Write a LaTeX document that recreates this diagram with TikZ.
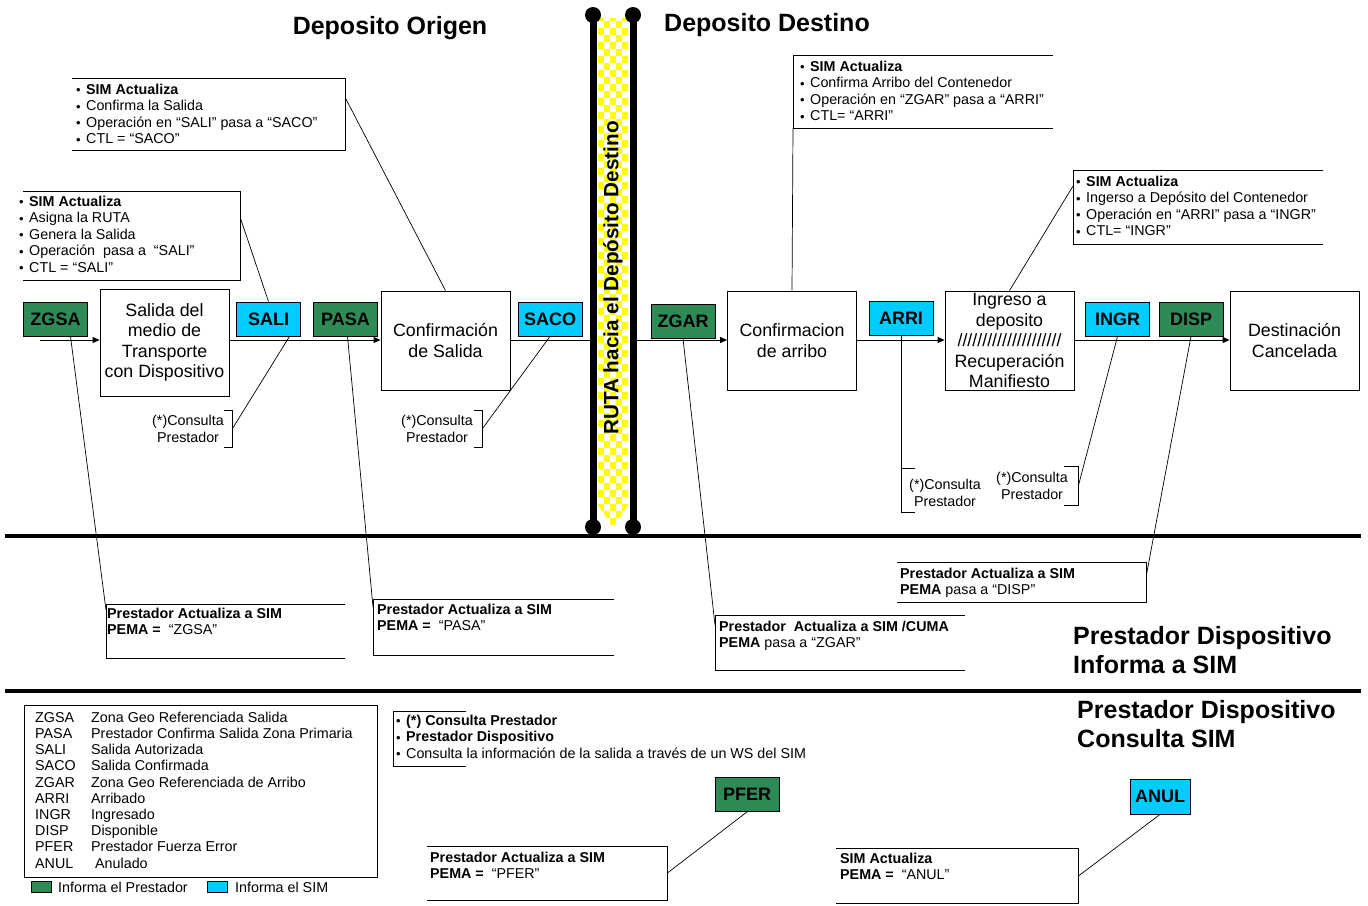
\documentclass[tikz,border=0pt]{standalone}
\usepackage{fontspec}
\setmainfont{Liberation Sans}
\usetikzlibrary{arrows.meta}
\definecolor{pgreen}{RGB}{46,139,87}
\definecolor{scyan}{RGB}{0,204,255}
\definecolor{ryellow}{RGB}{255,255,0}
\newcommand{\sz}{\fontsize{14.3}{16.5}\selectfont}
\newcommand{\bu}{\makebox[10pt][l]{\raisebox{-0.3pt}{\fontsize{13}{13}\selectfont\textbullet}}}
\newcommand{\fs}{\rule{0pt}{11pt}}
\tikzset{
  tagbox/.style={draw=black, line width=0.8pt, minimum width=64pt, minimum height=34pt, inner sep=0pt, font=\fontsize{18}{18}\selectfont\bfseries},
  gtag/.style={tagbox, fill=pgreen},
  ctag/.style={tagbox, fill=scyan},
  stepbox/.style={draw, line width=0.8pt, minimum width=129pt, minimum height=99pt, align=center, inner sep=0pt, font=\fontsize{17.8}{20.5}\selectfont},
  callframe/.style={draw=none, inner sep=0pt, anchor=north west},
  calltext/.style={anchor=north west, inner sep=0pt, align=left, font=\sz},
  thinl/.style={line width=0.7pt},
  frameline/.style={line width=1pt},
  flow/.style={line width=1pt, -{Triangle[length=7pt,width=6pt]}},
  brtext/.style={inner sep=0pt, align=center, font=\sz},
  title/.style={inner sep=0pt, font=\fontsize{25}{29}\selectfont\bfseries, align=left},
}
\begin{document}
\begin{tikzpicture}[x=1pt,y=-1pt]
\useasboundingbox[fill=white] (0,0) rectangle (1368,905);

% ---------- route strip ----------
\begin{scope}
  \clip (598,18) -- (628,18) -- (628,505) -- (613,528) -- (598,505) -- cycle;
  \foreach \i in {0,...,4}{
    \foreach \j in {0,...,73}{
      \pgfmathtruncatemacro{\p}{mod(\i+\j,2)}
      \ifnum\p=0 \fill[ryellow] (598+6*\i,14+7*\j) rectangle ++(6,7); \fi
    }
  }
\end{scope}
\draw[line width=7pt] (593,15) -- (593,527);
\draw[line width=7pt] (633,15) -- (633,527);
\foreach \xx in {593,633}{
  \fill (\xx,15) circle[radius=8pt];
  \fill (\xx,527) circle[radius=8pt];
}
\node[rotate=90, inner sep=0pt, font=\fontsize{20.7}{24}\selectfont\bfseries] (ruta) at (613,278) {RUTA hacia el Depósito Destino};

% ---------- separators ----------
\draw[line width=4pt] (5,536) -- (1361,536);
\draw[line width=4pt] (5,691) -- (1361,691);

% ---------- titles ----------
\node[title] (tOri) at (390,28) {Deposito Origen};
\node[title] (tDes) at (767,25) {Deposito Destino};
\node[title, anchor=north west] (tInf) at (1073,626) {Prestador Dispositivo\\Informa a SIM};
\node[title, anchor=north west] (tCon) at (1077,700) {Prestador Dispositivo\\Consulta SIM};

% ---------- main boxes ----------
\node[stepbox, minimum height=107pt] (salida) at (164.5,342.5) {Salida del\\medio de\\Transporte\\con Dispositivo};
\node[stepbox] (confsal) at (445.5,340.5) {Confirmación\\de Salida};
\node[stepbox] (confarr) at (792,340.5) {Confirmacion\\de arribo};
\node[stepbox] (ingreso) at (1009.5,340.5) {Ingreso a\\deposito\\/////////////////////\\Recuperación\\Manifiesto};
\node[stepbox] (dest) at (1294.5,340.5) {Destinación\\Cancelada};

% ---------- tags ----------
\node[gtag] (zgsa) at (55.5,319) {ZGSA};
\node[ctag] (sali) at (268.5,319) {SALI};
\node[gtag] (pasa) at (345.5,319) {PASA};
\node[ctag] (saco) at (550,319) {SACO};
\node[gtag] (zgar) at (683,321) {ZGAR};
\node[ctag] (arri) at (901,318.5) {ARRI};
\node[ctag] (ingr) at (1117.5,319) {INGR};
\node[gtag] (disp) at (1191,319) {DISP};
\node[gtag] (pfer) at (747,794.5) {PFER};
\node[ctag, minimum width=60pt, minimum height=35pt] (anul) at (1160,796.5) {ANUL};

% ---------- flow ----------
\coordinate (fstart) at (40,340);
\coordinate (rleft) at (590,340);
\coordinate (rright) at (636,340);
\draw[flow] (fstart) -- (fstart -| salida.west);
\draw[flow] (fstart -| salida.east) -- (fstart -| confsal.west);
\draw[line width=1pt] (fstart -| confsal.east) -- (rleft);
\draw[flow] (rright) -- (fstart -| confarr.west);
\draw[flow] (fstart -| confarr.east) -- (fstart -| ingreso.west);
\draw[flow] (fstart -| ingreso.east) -- (fstart -| dest.west);

% ---------- upper callouts ----------
\node[callframe, minimum width=273pt, minimum height=72pt] (fA) at (72,78) {};
\draw[frameline] (fA.north west) -| (fA.south east) -- (fA.south west);
\node[calltext] (tA) at (76,83) {\fs\bu\textbf{SIM Actualiza}\\\bu Confirma la Salida\\\bu Operación en “SALI” pasa a “SACO”\\\bu CTL = “SACO”};
\draw[thinl] ([yshift=-20pt]fA.north east) -- (confsal.north);

\node[callframe, minimum width=217pt, minimum height=89pt] (fB) at (23,191) {};
\draw[frameline] (fB.north west) -| (fB.south east) -- (fB.south west);
\node[calltext] (tB) at (19,195) {\fs\bu\textbf{SIM Actualiza}\\\bu Asigna la RUTA\\\bu Genera la Salida\\\bu Operación\ \ pasa a\ \ “SALI”\\\bu CTL = “SALI”};
\draw[thinl] ([yshift=-27pt]fB.north east) -- (sali.north);

\node[callframe, minimum width=260pt, minimum height=73pt] (fC) at (793,55) {};
\draw[frameline] (fC.north east) -| (fC.south west) -- (fC.south east);
\node[calltext] (tC) at (800,60) {\fs\bu\textbf{SIM Actualiza}\\\bu Confirma Arribo del Contenedor\\\bu Operación en “ZGAR” pasa a “ARRI”\\\bu CTL= “ARRI”};
\draw[thinl] (fC.south west) -- (confarr.north);

\node[callframe, minimum width=250pt, minimum height=74pt] (fD) at (1073,170) {};
\draw[frameline] (fD.north east) -| (fD.south west) -- (fD.south east);
\node[calltext] (tD) at (1076,175) {\fs\bu\textbf{SIM Actualiza}\\\bu Ingerso a Depósito del Contenedor\\\bu Operación en “ARRI” pasa a “INGR”\\\bu CTL= “INGR”};
\draw[thinl] ([yshift=-16pt]fD.north west) -- (ingreso.north);

% ---------- consult brackets ----------
\node[callframe, minimum width=8pt, minimum height=37pt] (bkS) at (224,410) {};
\draw[thinl] (bkS.north west) -| (bkS.south east) -- (bkS.south west);
\node[brtext] (cS) at (188,429) {(*)Consulta\\Prestador};
\draw[thinl] (bkS.east) -- ([xshift=21pt]sali.south);

\node[callframe, minimum width=8pt, minimum height=37pt] (bkC) at (474,410) {};
\draw[thinl] (bkC.north west) -| (bkC.south east) -- (bkC.south west);
\node[brtext] (cC) at (437,429) {(*)Consulta\\Prestador};
\draw[thinl] (bkC.east) -- (saco.south);

\node[callframe, minimum width=14pt, minimum height=44pt] (bkA) at (901,468) {};
\draw[thinl] (bkA.north east) -| (bkA.south west) -- (bkA.south east);
\node[brtext] (cA) at (945,493) {(*)Consulta\\Prestador};
\draw[thinl] (arri.south) -- (bkA.north west);

\node[callframe, minimum width=14pt, minimum height=39pt] (bkI) at (1064,466) {};
\draw[thinl] (bkI.north west) -| (bkI.south east) -- (bkI.south west);
\node[brtext] (cI) at (1032,486) {(*)Consulta\\Prestador};
\draw[thinl] (bkI.east) -- (ingr.south);

% ---------- lower callouts ----------
\node[callframe, minimum width=239pt, minimum height=54pt] (fE) at (106,604) {};
\draw[frameline] (fE.north east) -| (fE.south west) -- (fE.south east);
\node[calltext] (tE) at (107,607) {\fs\textbf{Prestador Actualiza a SIM}\\\textbf{PEMA =}\ \ “ZGSA”};
\draw[thinl] ([xshift=15pt]zgsa.south) -- ([yshift=-6pt]fE.north west);

\node[callframe, minimum width=241pt, minimum height=56pt] (fF) at (373,599) {};
\draw[frameline] (fF.north east) -| (fF.south west) -- (fF.south east);
\node[calltext] (tF) at (377,603) {\fs\textbf{Prestador Actualiza a SIM}\\\textbf{PEMA =}\ \ “PASA”};
\draw[thinl] ([xshift=2pt]pasa.south) -- ([yshift=-8pt]fF.north west);

\node[callframe, minimum width=250pt, minimum height=55pt] (fG) at (715,615) {};
\draw[frameline] (fG.north east) -| (fG.south west) -- (fG.south east);
\node[calltext] (tG) at (719,620) {\fs\textbf{Prestador\ \ Actualiza a SIM /CUMA}\\\textbf{PEMA} pasa a “ZGAR”};
\draw[thinl] (zgar.south) -- ([yshift=-10pt]fG.north west);

\node[callframe, minimum width=249pt, minimum height=40pt] (fH) at (897,562) {};
\draw[frameline] (fH.north west) -| (fH.south east) -- (fH.south west);
\node[calltext] (tH) at (900,567) {\fs\textbf{Prestador Actualiza a SIM}\\\textbf{PEMA} pasa a “DISP”};
\draw[thinl] (disp.south) -- ([yshift=-13pt]fH.north east);

\node[callframe, minimum width=240pt, minimum height=54pt] (fI) at (427,846) {};
\draw[frameline] (fI.north west) -| (fI.south east) -- (fI.south west);
\node[calltext] (tI) at (430,851) {\fs\textbf{Prestador Actualiza a SIM}\\\textbf{PEMA =}\ \ “PFER”};
\draw[thinl] (pfer.south) -- ([yshift=-27pt]fI.north east);

\node[callframe, minimum width=242pt, minimum height=55pt] (fJ) at (836,848) {};
\draw[frameline] (fJ.north west) -| (fJ.south east) -- (fJ.south west);
\node[calltext] (tJ) at (840,852) {\fs\textbf{SIM Actualiza}\\\textbf{PEMA =}\ \ “ANUL”};
\draw[thinl] (anul.south) -- ([yshift=-28pt]fJ.north east);

% ---------- note box ----------
\node[callframe, minimum width=73pt, minimum height=55pt] (fK) at (393,711) {};
\draw[frameline] (fK.north east) -| (fK.south west) -- (fK.south east);
\node[calltext] (tK) at (396,714) {\fs\bu\textbf{(*) Consulta Prestador}\\\bu\textbf{Prestador Dispositivo}\\\bu Consulta la información de la salida a través de un WS del SIM};

% ---------- legend ----------
\node[draw, line width=1pt, inner sep=0pt, anchor=north west, minimum width=353pt, minimum height=172pt] (leg) at (24,705) {};
\node[anchor=north west, inner sep=0pt, align=left, font=\fontsize{14.3}{16.2}\selectfont] (legc) at (35,711) {\fs ZGSA\\PASA\\SALI\\SACO\\ZGAR\\ARRI\\INGR\\DISP\\PFER\\ANUL};
\node[anchor=north west, inner sep=0pt, align=left, font=\fontsize{14.3}{16.2}\selectfont] (legd) at (91,711) {\fs Zona Geo Referenciada Salida\\Prestador Confirma Salida Zona Primaria\\Salida Autorizada\\Salida Confirmada\\Zona Geo Referenciada de Arribo\\Arribado\\Ingresado\\Disponible\\Prestador Fuerza Error\\\hspace{4pt}Anulado};
\node[draw, fill=pgreen, line width=0.8pt, inner sep=0pt, minimum width=20pt, minimum height=11pt, anchor=west] (swg) at (31,887) {};
\node[anchor=west, inner sep=0pt, font=\sz] (swgt) at (58,887) {Informa el Prestador};
\node[draw, fill=scyan, line width=0.8pt, inner sep=0pt, minimum width=20pt, minimum height=11pt, anchor=west] (swc) at (207,887) {};
\node[anchor=west, inner sep=0pt, font=\sz] (swct) at (235,887) {Informa el SIM};
\end{tikzpicture}
\end{document}
